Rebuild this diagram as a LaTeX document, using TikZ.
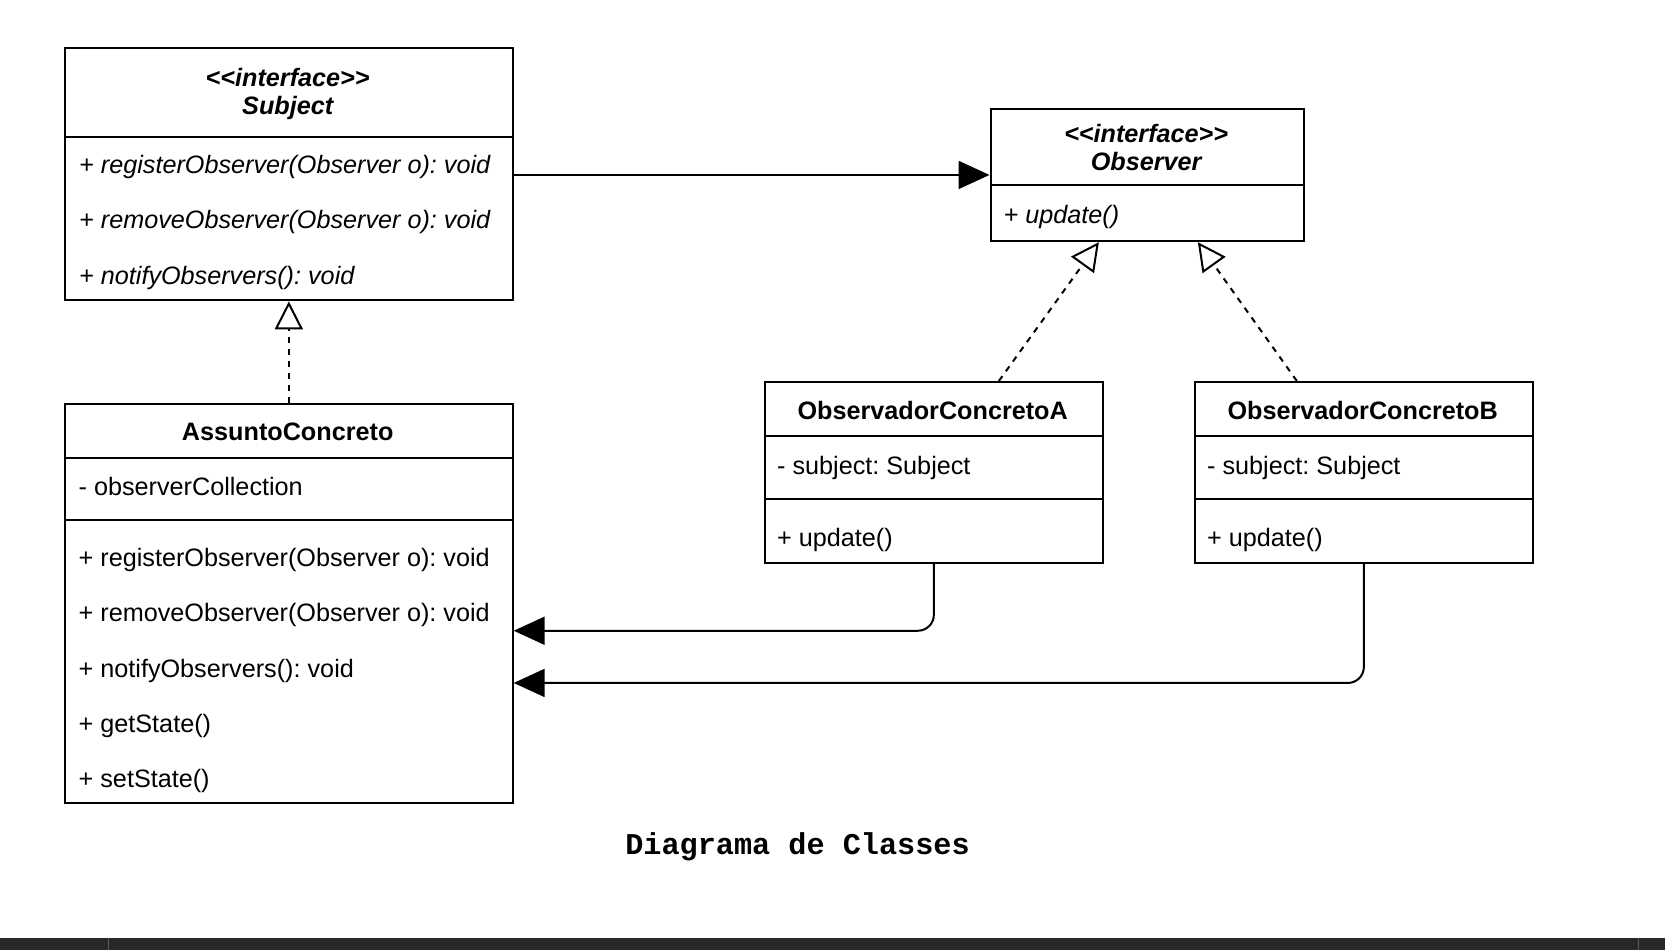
\documentclass[tikz,border=0pt]{standalone}
\usepackage{fontspec}
\newfontfamily\umlfont{Liberation Sans}
\newfontfamily\capfont{Liberation Mono}
\usetikzlibrary{arrows.meta,calc}
\definecolor{barcol}{RGB}{40,40,40}
\definecolor{barsep}{RGB}{90,90,90}
\frenchspacing
\begin{document}
\frenchspacing
\begin{tikzpicture}[x=1pt,y=-1pt,
  every node/.style={inner sep=0pt},
  box/.style={draw=black, line width=2.2pt, fill=white, anchor=north west},
  sep/.style={line width=2pt},
  txt/.style={anchor=base west, font=\umlfont\frenchspacing\fontsize{25.2}{30}\selectfont},
  itxt/.style={anchor=base west, font=\umlfont\frenchspacing\itshape\fontsize{25.2}{30}\selectfont},
  ttl/.style={anchor=base, font=\umlfont\bfseries\fontsize{25.2}{30}\selectfont},
  ittl/.style={anchor=base, font=\umlfont\bfseries\itshape\fontsize{25.2}{30}\selectfont},
  assoc/.style={line width=2pt, -{Triangle[length=31pt,width=28pt]}},
  realize/.style={line width=2pt, dash pattern=on 6pt off 6pt, -{Triangle[open,length=28pt,width=28pt,line width=2pt]}},
]
\useasboundingbox (0,0) rectangle (1665,950);
\fill[white] (0,0) rectangle (1665,950);

% boxes
\node[box, minimum width=447.5pt, minimum height=252.5pt] (subject) at (64,46.7) {};
\node[box, minimum width=313.5pt, minimum height=132.3pt] (observer) at (989.5,107.7) {};
\node[box, minimum width=447.5pt, minimum height=399.5pt] (ac) at (64,402.5) {};
\node[box, minimum width=338.5pt, minimum height=181pt] (obsA) at (763.5,381) {};
\node[box, minimum width=338.5pt, minimum height=181pt] (obsB) at (1193.5,381) {};

% dividers
\draw[sep] (64,136.5) -- (511.5,136.5);
\draw[sep] (989.5,185) -- (1303,185);
\draw[sep] (64,457.7) -- (511.5,457.7);
\draw[sep] (64,520.3) -- (511.5,520.3);
\draw[sep] (763.5,435.5) -- (1102,435.5);
\draw[sep] (763.5,499.2) -- (1102,499.2);
\draw[sep] (1193.5,435.5) -- (1532,435.5);
\draw[sep] (1193.5,499.2) -- (1532,499.2);

% Subject texts
\node[ittl] (st1) at (287.7,86.5) {<<interface>>};
\node[ittl] (st2) at (287.7,114.5) {Subject};
\node[itxt] (sm1) at (79,173.6) {+ registerObserver(Observer o): void};
\node[itxt] (sm2) at (79,228.8) {+ removeObserver(Observer o): void};
\node[itxt] (sm3) at (79,284) {+ notifyObservers(): void};

% Observer texts
\node[ittl] (ot1) at (1146.2,142.5) {<<interface>>};
\node[ittl] (ot2) at (1146.2,170.5) {Observer};
\node[itxt] (om1) at (1003.5,223.5) {+ update()};

% AssuntoConcreto texts
\node[ttl] (at1) at (287.7,440) {AssuntoConcreto};
\node[txt] (aa1) at (78.5,495.4) {- observerCollection};
\node[txt] (am1) at (78.5,566.5) {+ registerObserver(Observer o): void};
\node[txt] (am2) at (78.5,621.7) {+ removeObserver(Observer o): void};
\node[txt] (am3) at (78.5,677) {+ notifyObservers(): void};
\node[txt] (am4) at (78.5,732.2) {+ getState()};
\node[txt] (am5) at (78.5,787.4) {+ setState()};

% ObservadorConcretoA texts
\node[ttl] (ct1) at (932.7,419) {ObservadorConcretoA};
\node[txt] (ca1) at (777,474) {- subject: Subject};
\node[txt] (cm1) at (777,546.3) {+ update()};

% ObservadorConcretoB texts
\node[ttl] (dt1) at (1362.7,419) {ObservadorConcretoB};
\node[txt] (da1) at (1207,474) {- subject: Subject};
\node[txt] (dm1) at (1207,546.3) {+ update()};

% connectors
\draw[assoc] (subject.east |- observer.west) -- (observer.west);
\draw[realize] (ac.north) -- (subject.south);
\draw[realize] ([xshift=65pt]obsA.north) -- ([xshift=-48.5pt]observer.south);
\draw[realize] ([xshift=-67pt]obsB.north) -- ([xshift=50.5pt]observer.south);
\draw[assoc, rounded corners=16pt] (obsA.south) |- ([yshift=-27.4pt]ac.east);
\draw[assoc, rounded corners=16pt] (obsB.south) |- ([yshift=-79.6pt]ac.east);

% caption
\node[font=\capfont\bfseries\fontsize{30.2}{33}\selectfont] (cap) at (797.5,847) {Diagrama de Classes};

% bottom bar
\fill[barcol] (0,937.6) rectangle (1665,950);
\draw[barsep, line width=1pt] (108,937.6) -- (108,950);
\draw[barsep, line width=1pt] (1638,937.6) -- (1638,950);
\end{tikzpicture}
\end{document}
